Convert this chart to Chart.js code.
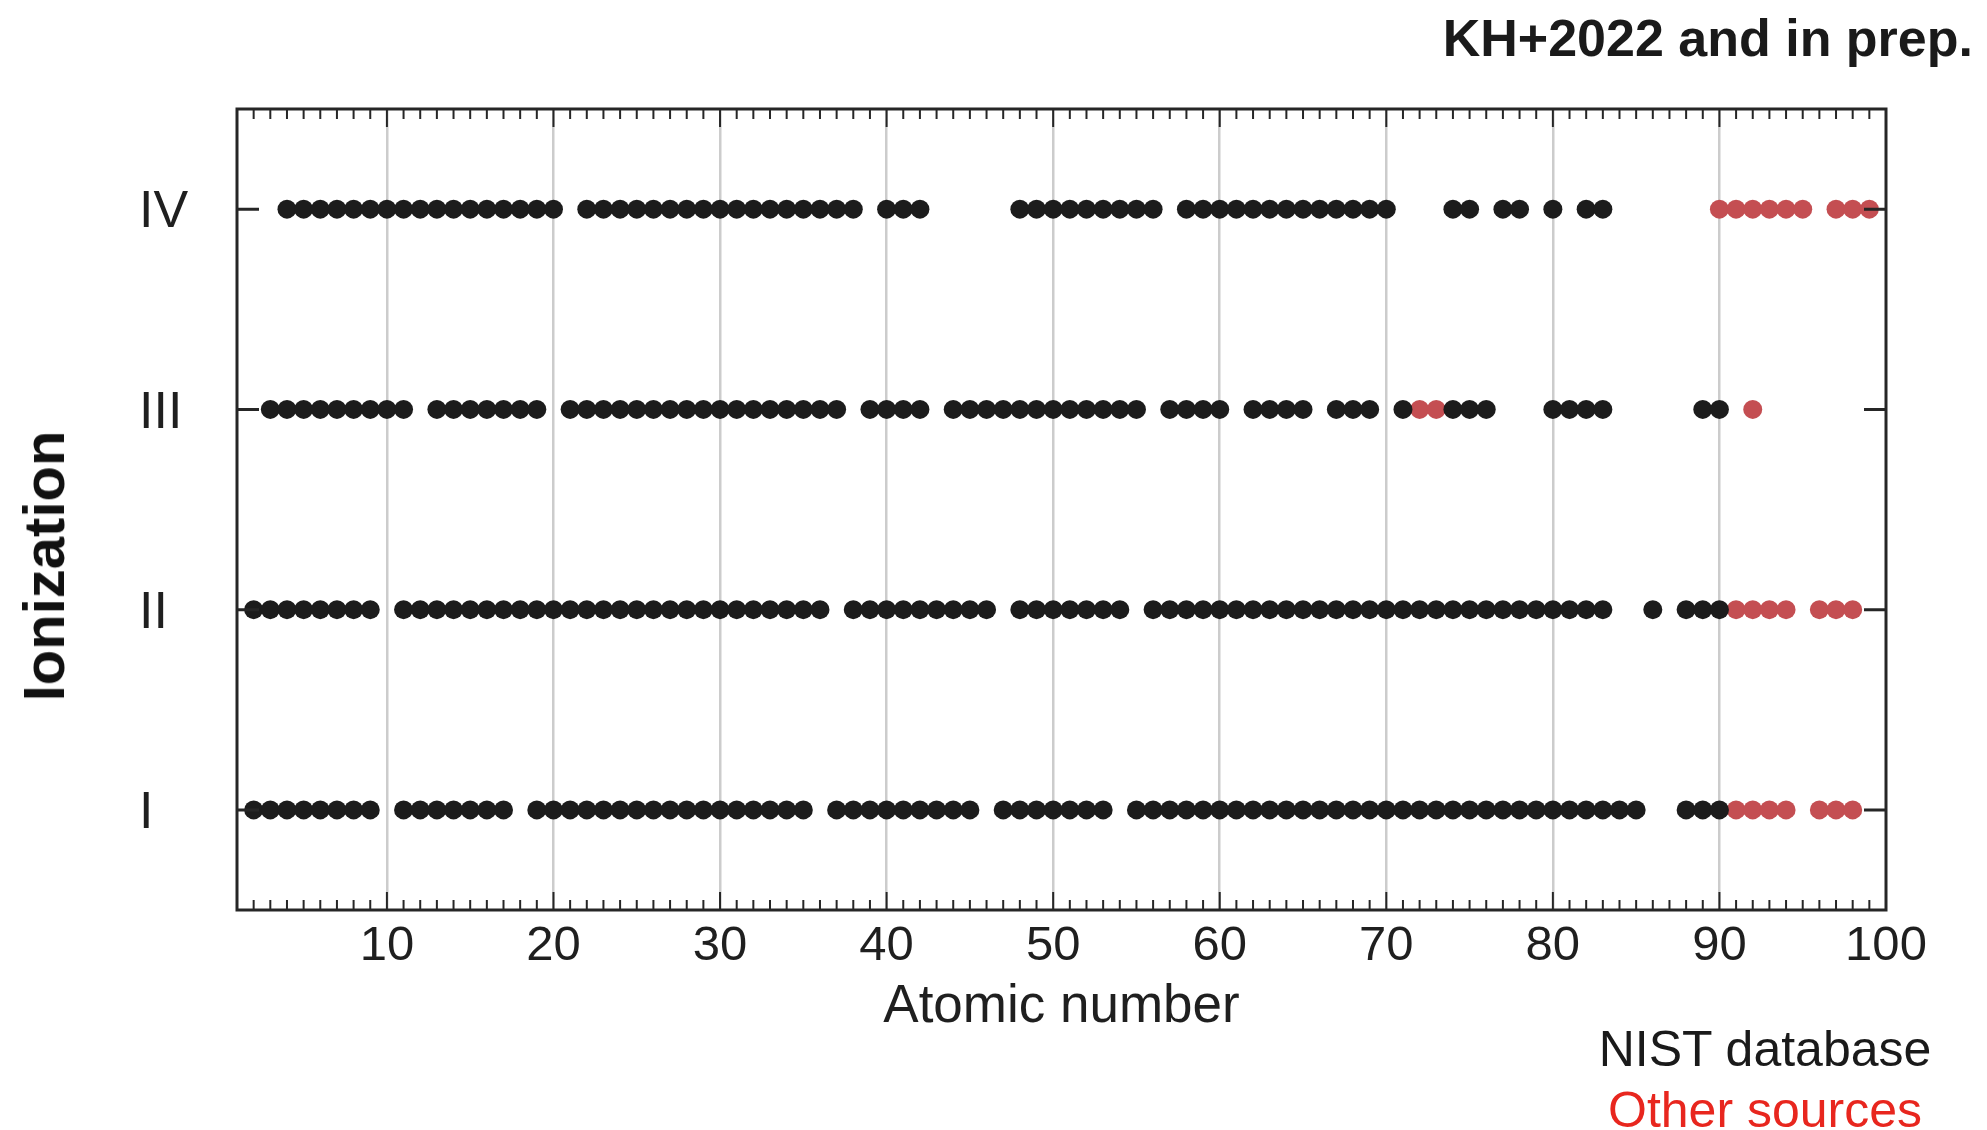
<!DOCTYPE html>
<html>
<head>
<meta charset="utf-8">
<script src="https://cdn.jsdelivr.net/npm/chart.js@4.4.1/dist/chart.umd.min.js"></script>
<style>
  html, body { margin: 0; padding: 0; background: #fff; }
  #wrap { position: relative; width: 1987px; height: 1130px; overflow: hidden; }
  #chart { position: absolute; left: 0; top: 0; }
  .note { position: absolute; font-family: 'Liberation Sans', Arial, sans-serif; font-size: 50px; line-height: 1; white-space: nowrap; color: #1a1a1a; }
  #source { right: 14px; top: 12px; font-size: 52px; font-weight: bold; }
  #nist { left: 1765px; top: 1024px; transform: translateX(-50%); }
  #other { left: 1765px; top: 1085px; transform: translateX(-50%); color: #e8261e; }
  #ylabel { left: 44px; top: 566px; font-size: 58px; font-weight: bold; color: #111;
            transform: translate(-50%, -50%) rotate(-90deg); }
</style>
</head>
<body>
<div id="wrap">
  <canvas id="chart" width="1987" height="1130"></canvas>
  <div class="note" id="source">KH+2022 and in prep.</div>
  <div class="note" id="ylabel">Ionization</div>
  <div class="note" id="nist">NIST database</div>
  <div class="note" id="other">Other sources</div>
</div>
<script>
// Ionization rows and x tick labels
const rowLabels = ['I', 'II', 'III', 'IV'];
const xTickValues = [10, 20, 30, 40, 50, 60, 70, 80, 90, 100];

// Atomic numbers with data from the NIST database, per ionization stage
const nistI = [2, 3, 4, 5, 6, 7, 8, 9, 11, 12, 13, 14, 15, 16, 17,
    19, 20, 21, 22, 23, 24, 25, 26, 27, 28, 29, 30, 31, 32, 33, 34, 35,
    37, 38, 39, 40, 41, 42, 43, 44, 45, 47, 48, 49, 50, 51, 52, 53,
    55, 56, 57, 58, 59, 60, 61, 62, 63, 64, 65, 66, 67, 68, 69, 70,
    71, 72, 73, 74, 75, 76, 77, 78, 79, 80, 81, 82, 83, 84, 85, 88, 89, 90];
const nistII = [2, 3, 4, 5, 6, 7, 8, 9,
    11, 12, 13, 14, 15, 16, 17, 18, 19, 20, 21, 22, 23, 24, 25, 26, 27, 28,
    29, 30, 31, 32, 33, 34, 35, 36, 38, 39, 40, 41, 42, 43, 44, 45, 46,
    48, 49, 50, 51, 52, 53, 54, 56, 57, 58, 59, 60, 61, 62, 63, 64, 65, 66,
    67, 68, 69, 70, 71, 72, 73, 74, 75, 76, 77, 78, 79, 80, 81, 82, 83,
    86, 88, 89, 90];
const nistIII = [3, 4, 5, 6, 7, 8, 9, 10, 11, 13, 14, 15, 16, 17, 18, 19,
    21, 22, 23, 24, 25, 26, 27, 28, 29, 30, 31, 32, 33, 34, 35, 36, 37,
    39, 40, 41, 42, 44, 45, 46, 47, 48, 49, 50, 51, 52, 53, 54, 55,
    57, 58, 59, 60, 62, 63, 64, 65, 67, 68, 69, 71, 74, 75, 76,
    80, 81, 82, 83, 89, 90];
const nistIV = [4, 5, 6, 7, 8, 9, 10, 11, 12, 13, 14, 15, 16, 17, 18, 19, 20,
    22, 23, 24, 25, 26, 27, 28, 29, 30, 31, 32, 33, 34, 35, 36, 37, 38,
    40, 41, 42, 48, 49, 50, 51, 52, 53, 54, 55, 56,
    58, 59, 60, 61, 62, 63, 64, 65, 66, 67, 68, 69, 70,
    74, 75, 77, 78, 80, 82, 83];

// Atomic numbers with data from other sources
const otherI = [91, 92, 93, 94, 96, 97, 98];
const otherII = [91, 92, 93, 94, 96, 97, 98];
const otherIII = [72, 73, 92];
const otherIV = [90, 91, 92, 93, 94, 95, 97, 98, 99];

const textColor = '#1f1f1f';
const axisColor = '#262626';
const fontFamily = "'Liberation Sans', Arial, sans-serif";

function toPoints(rows) {
    const pts = [];
    rows.forEach((zs, i) => zs.forEach(z => pts.push({ x: z, y: i + 1 })));
    return pts;
}

// Frame with inward ticks on all four sides
const frameTicks = {
    id: 'frameTicks',
    afterDraw(chart) {
        const { ctx, chartArea: a, scales: { x, y } } = chart;
        ctx.save();
        ctx.strokeStyle = axisColor;
        ctx.lineWidth = 2;
        ctx.beginPath();
        for (let v = 2; v < 100; v++) {
            const px = x.getPixelForValue(v);
            const len = v % 10 === 0 ? 18 : 10;
            ctx.moveTo(px, a.bottom);
            ctx.lineTo(px, a.bottom - len);
            ctx.moveTo(px, a.top);
            ctx.lineTo(px, a.top + len);
        }
        ctx.stroke();
        ctx.lineWidth = 3;
        ctx.beginPath();
        rowLabels.forEach((lab, i) => {
            const py = y.getPixelForValue(i + 1);
            ctx.moveTo(a.left, py);
            ctx.lineTo(a.left + 22, py);
            ctx.moveTo(a.right, py);
            ctx.lineTo(a.right - 22, py);
        });
        ctx.stroke();
        ctx.strokeRect(a.left, a.top, a.right - a.left, a.bottom - a.top);
        ctx.restore();
    }
};

new Chart(document.getElementById('chart').getContext('2d'), {
    type: 'scatter',
    data: {
        datasets: [{
            label: 'NIST database',
            data: toPoints([nistI, nistII, nistIII, nistIV]),
            backgroundColor: '#1c1c1c',
            borderWidth: 0,
            pointRadius: 9.5,
            pointHoverRadius: 9.5
        }, {
            label: 'Other sources',
            data: toPoints([otherI, otherII, otherIII, otherIV]),
            backgroundColor: '#c44e52',
            borderWidth: 0,
            pointRadius: 9.5,
            pointHoverRadius: 9.5
        }]
    },
    options: {
        responsive: false,
        animation: false,
        devicePixelRatio: 1,
        layout: { padding: { left: 139, top: 109, right: 101, bottom: 0 } },
        plugins: { legend: { display: false }, tooltip: { enabled: false } },
        scales: {
            x: {
                type: 'linear',
                min: 1,
                max: 100,
                afterBuildTicks: scale => { scale.ticks = xTickValues.map(v => ({ value: v })); },
                afterFit: scale => { scale.height = 220; },
                grid: {
                    drawTicks: false,
                    lineWidth: 2.5,
                    color: c => (c.tick && c.tick.value < 100 ? '#cccccc' : 'rgba(0,0,0,0)')
                },
                border: { display: false },
                ticks: {
                    color: textColor,
                    padding: 7,
                    maxRotation: 0,
                    autoSkip: false,
                    font: { family: fontFamily, size: 49 }
                },
                title: {
                    display: true,
                    text: 'Atomic number',
                    color: textColor,
                    padding: { bottom: 91 },
                    font: { family: fontFamily, size: 53, lineHeight: 1.2 }
                }
            },
            y: {
                type: 'linear',
                min: 0.5,
                max: 4.5,
                afterBuildTicks: scale => { scale.ticks = rowLabels.map((l, i) => ({ value: i + 1 })); },
                afterFit: scale => { scale.width = 98; },
                grid: { display: false, drawTicks: false },
                border: { display: false },
                ticks: {
                    color: textColor,
                    padding: 10,
                    crossAlign: 'far',
                    labelOffset: 4,
                    callback: v => rowLabels[v - 1],
                    font: { family: fontFamily, size: 52 }
                },
                title: { display: false }
            }
        }
    },
    plugins: [frameTicks]
});
</script>
</body>
</html>
